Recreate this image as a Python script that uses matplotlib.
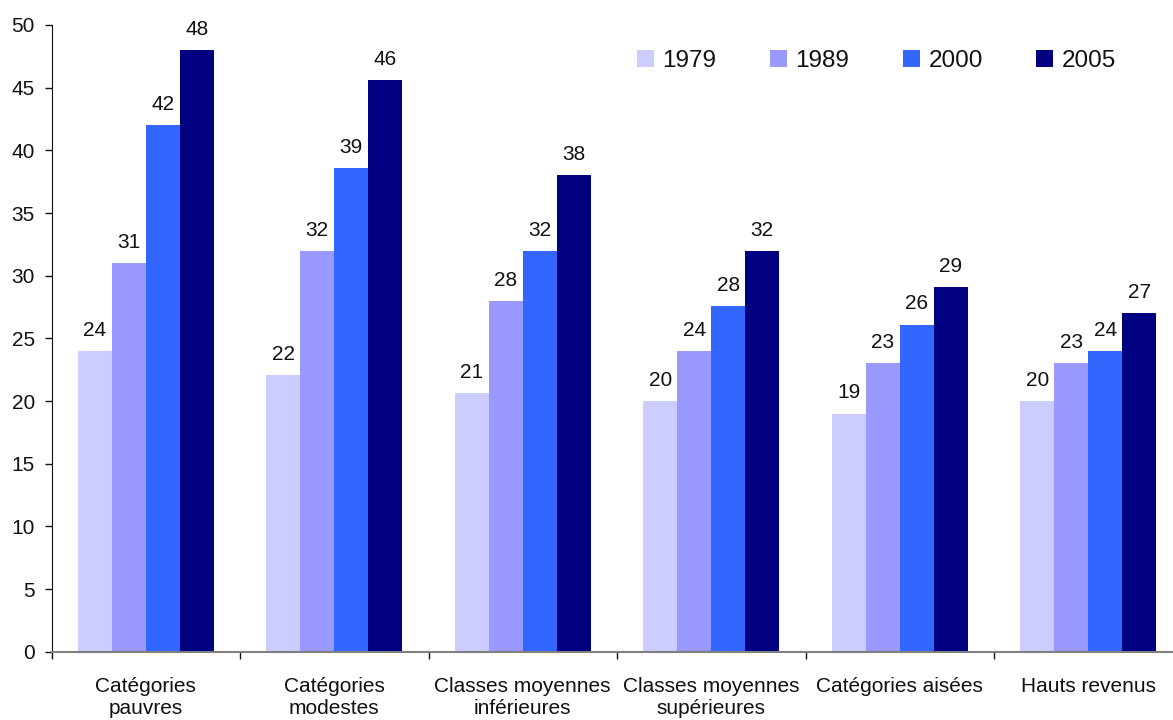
import matplotlib
matplotlib.use("Agg")
import matplotlib.pyplot as plt
import numpy as np

plt.rcParams['font.family'] = ['Liberation Sans', 'DejaVu Sans']

categories = ['Catégories\npauvres', 'Catégories\nmodestes', 'Classes moyennes\ninférieures',
              'Classes moyennes\nsupérieures', 'Catégories aisées', 'Hauts revenus']
years = ['1979', '1989', '2000', '2005']
v1979 = [24.0, 22.1, 20.6, 20.0, 19.0, 20.0]
v1989 = [31.0, 32.0, 28.0, 24.0, 23.0, 23.0]
v2000 = [42.0, 38.6, 32.0, 27.6, 26.1, 24.0]
v2005 = [48.0, 45.6, 38.0, 32.0, 29.1, 27.0]
series = [v1979, v1989, v2000, v2005]
colors = ['#CCCCFF', '#9999FF', '#3366FF', '#000080']

fig = plt.figure(figsize=(11.73, 7.2), dpi=100)
W, H = 1173, 720
left, right = 51.5, 1182.5
bottom, top = 651.7, 25.0
ax = fig.add_axes([left / W, (H - bottom) / H, (right - left) / W, (bottom - top) / H])

x = np.arange(len(categories))
w = 0.18
for i, (vals, c, yr) in enumerate(zip(series, colors, years)):
    bars = ax.bar(x + (i - 1.5) * w, vals, width=w, color=c, label=yr, linewidth=0)
    ax.bar_label(bars, fmt='%.0f', padding=8, fontsize=15, color='#111111')

ax.set_xlim(-0.5, len(categories) - 0.5)
ax.set_ylim(0, 50)
ax.set_yticks(np.arange(0, 51, 5))
ax.tick_params(axis='y', length=5, width=1, pad=7, labelsize=15, colors='#111111')

ax.set_xticks(np.arange(-0.5, len(categories), 1.0))
ax.set_xticklabels([])
ax.set_xticks(x, minor=True)
ax.set_xticklabels(categories, minor=True)
ax.tick_params(axis='x', which='major', length=5, width=1, color='#111111')
ax.tick_params(axis='x', which='minor', length=0, pad=18, labelsize=15, labelcolor='#111111')

for s in ['top', 'right']:
    ax.spines[s].set_visible(False)
ax.spines['left'].set_color('#111111')
ax.spines['bottom'].set_color('#808080')
ax.spines['bottom'].set_linewidth(1.5)

leg = fig.legend(loc='upper left', bbox_to_anchor=(637 / W, 1 - 50 / H), ncol=4, frameon=False,
                 fontsize=17.5, handlelength=0.7, handleheight=0.68, handletextpad=0.35,
                 columnspacing=2.2, borderpad=0, borderaxespad=0)
for t in leg.get_texts():
    t.set_color('#111111')

fig.savefig('out.png', dpi=100)
